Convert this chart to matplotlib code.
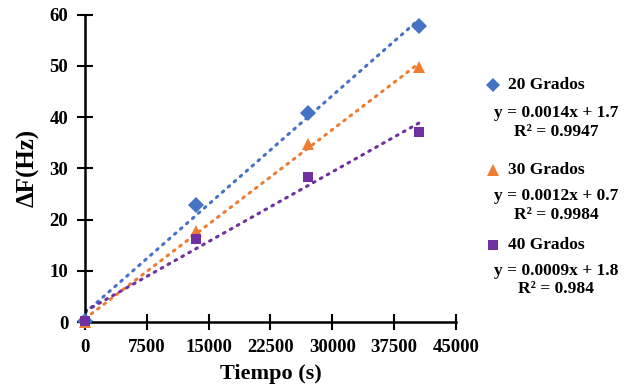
import matplotlib
matplotlib.use("Agg")
import matplotlib.pyplot as plt
import numpy as np

tiempo = [0, 13500, 27000, 40500]
g20 = [0.2, 22.8, 40.9, 57.8]
g30 = [0.0, 17.8, 34.8, 49.7]
g40 = [0.3, 16.2, 28.3, 37.1]
series_names = ["20 Grados", "30 Grados", "40 Grados"]
equations = ["y = 0.0014x + 1.7", "y = 0.0012x + 0.7", "y = 0.0009x + 1.8"]
r2 = ["R² = 0.9947", "R² = 0.9984", "R² = 0.984"]
xticks = [0, 7500, 15000, 22500, 30000, 37500, 45000]
yticks = [0, 10, 20, 30, 40, 50, 60]

colors = ["#4472C4", "#ED7D31", "#7030A0"]
markers = ["D", "^", "s"]
msizes = [8, 9, 7.5]

plt.rcParams['font.family'] = ['Liberation Serif', 'DejaVu Serif']
plt.rcParams['font.weight'] = 'bold'

fig = plt.figure(figsize=(6.32, 3.88), dpi=100)
ax = fig.add_axes([0.1345, 0.170, 0.587, 0.792])

x = np.array(tiempo, dtype=float)
for ys, c, m, ms in zip([g20, g30, g40], colors, markers, msizes):
    ys = np.array(ys)
    k, b = np.polyfit(x, ys, 1)
    xl = np.linspace(0, x.max(), 50)
    ax.plot(xl, k * xl + b, color=c, linestyle=(0, (0.6, 2.0)), lw=2.2,
            dash_capstyle='round', zorder=2)
    ax.plot(x, ys, linestyle='none', marker=m, color=c, markersize=ms,
            markeredgewidth=0, zorder=3, clip_on=False)

ax.set_xlim(0, 45000)
ax.set_ylim(0, 60)
ax.set_xticks(xticks)
ax.set_yticks(yticks)
ax.set_xticklabels([str(v) for v in xticks], fontsize=13.5, fontweight='bold')
ax.set_yticklabels([str(v) for v in yticks], fontsize=13.5, fontweight='bold')
ax.tick_params(direction='inout', length=12, width=1.5)
ax.tick_params(axis='x', pad=6)
ax.tick_params(axis='y', pad=6)
ax.spines['top'].set_visible(False)
ax.spines['right'].set_visible(False)
ax.spines['left'].set_linewidth(1.8)
ax.spines['bottom'].set_linewidth(1.8)
ax.set_xlabel("Tiempo (s)", fontsize=16, fontweight='bold', labelpad=6)
ax.set_ylabel("ΔF(Hz)", fontsize=18, fontweight='bold', labelpad=7)

# legend-like annotations
W, H = 632, 388
marker_y = [85, 170, 245]
eq_y = [113, 196, 271]
r2_y = [132, 215, 289]
for i in range(3):
    fig.lines.append(plt.Line2D([493 / W], [1 - marker_y[i] / H], marker=markers[i],
                                color=colors[i], markersize=msizes[i] - 0.5,
                                markeredgewidth=0, transform=fig.transFigure,
                                linestyle='none'))
    fig.text(508 / W, 1 - marker_y[i] / H, series_names[i], fontsize=12.5,
             fontweight='bold', va='center', ha='left')
    fig.text(556 / W, 1 - eq_y[i] / H, equations[i], fontsize=12.5,
             fontweight='bold', va='center', ha='center')
    fig.text(556 / W, 1 - r2_y[i] / H, r2[i], fontsize=12.5,
             fontweight='bold', va='center', ha='center')

fig.savefig("out.png", dpi=100)
